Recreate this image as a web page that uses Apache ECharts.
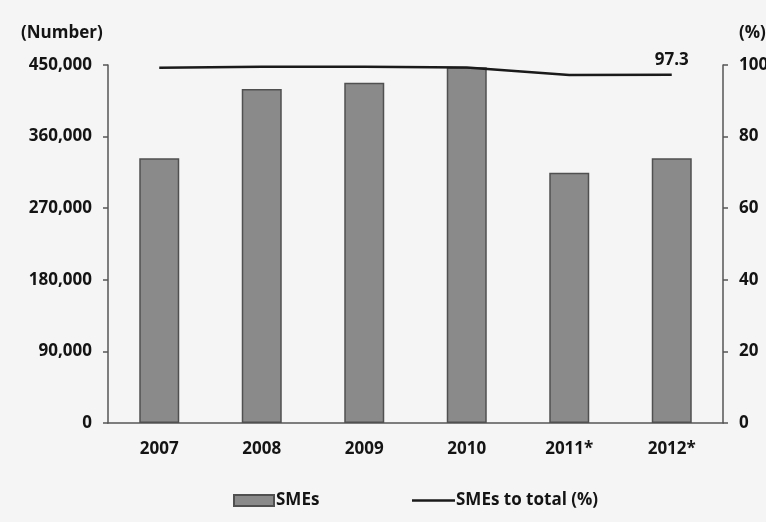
<!DOCTYPE html>
<html>
<head>
<meta charset="utf-8">
<script src="https://cdn.jsdelivr.net/npm/echarts@6/dist/echarts.min.js"></script>
<style>
  html, body { margin: 0; padding: 0; background: #f5f5f5; }
  #chart { width: 766px; height: 522px; }
</style>
</head>
<body>
<div id="chart"></div>
<script>
// Number of SMEs per year and their share of all enterprises
const years = ['2007', '2008', '2009', '2010', '2011*', '2012*'];
const smeCounts = [332700, 419800, 427800, 447100, 314600, 332700];
const smeShare = [99.2, 99.5, 99.5, 99.3, 97.2, 97.3];
const countTicks = [0, 90000, 180000, 270000, 360000, 450000];
const shareTicks = [0, 20, 40, 60, 80, 100];

const FONT = '"Open Sans", "Liberation Sans", sans-serif';
const SIZE = 17;
const txt = { color: '#141414', fontFamily: FONT, fontSize: SIZE, fontWeight: 'bold' };
const fontStr = 'bold ' + SIZE + 'px ' + FONT;

const chart = echarts.init(document.getElementById('chart'), null, { renderer: 'canvas' });

chart.setOption({
  backgroundColor: '#f5f5f5',
  animation: false,
  grid: { left: 108, right: 43, top: 65, bottom: 99, outerBoundsMode: 'none', containLabel: false },
  graphic: [
    { type: 'text', left: 21, top: 25, style: { text: '(Number)', fill: txt.color, font: fontStr } },
    { type: 'text', left: 739, top: 25, style: { text: '(%)', fill: txt.color, font: fontStr } }
  ],
  legend: [
    {
      left: 233,
      top: 492,
      padding: 0,
      itemWidth: 40,
      itemHeight: 11,
      icon: 'rect',
      textStyle: Object.assign({}, txt, { padding: [0, 0, 0, -3] }),
      data: ['SMEs']
    },
    {
      left: 412,
      top: 492,
      padding: 0,
      itemWidth: 43,
      itemHeight: 2.5,
      icon: 'rect',
      textStyle: Object.assign({}, txt, { padding: [0, 0, 0, -4] }),
      data: ['SMEs to total (%)']
    }
  ],
  xAxis: {
    type: 'category',
    data: years,
    axisLine: { lineStyle: { color: '#555', width: 1.5 } },
    axisTick: { show: false },
    axisLabel: Object.assign({ margin: 18 }, txt)
  },
  yAxis: [
    {
      type: 'value',
      min: 0,
      max: 450000,
      interval: 90000,
      axisLine: { show: true, lineStyle: { color: '#555', width: 1.5 } },
      axisTick: { show: true, length: 5, lineStyle: { color: '#555', width: 1.5 } },
      splitLine: { show: false },
      axisLabel: Object.assign({
        margin: 16,
        formatter: v => countTicks.includes(v) ? v.toLocaleString('en-US') : ''
      }, txt)
    },
    {
      type: 'value',
      min: 0,
      max: 100,
      interval: 20,
      axisLine: { show: true, lineStyle: { color: '#555', width: 1.5 } },
      axisTick: { show: true, length: 5, lineStyle: { color: '#555', width: 1.5 } },
      splitLine: { show: false },
      axisLabel: Object.assign({
        margin: 16,
        formatter: v => shareTicks.includes(v) ? String(v) : ''
      }, txt)
    }
  ],
  series: [
    {
      name: 'SMEs',
      type: 'bar',
      data: smeCounts,
      barWidth: 40,
      itemStyle: { color: '#8a8a8a', borderColor: '#505050', borderWidth: 1.5 }
    },
    {
      name: 'SMEs to total (%)',
      type: 'line',
      yAxisIndex: 1,
      data: smeShare.map((v, i) => i === smeShare.length - 1
        ? { value: v, label: { show: true } }
        : v),
      symbol: 'circle',
      symbolSize: 0,
      showSymbol: true,
      lineStyle: { color: '#1a1a1a', width: 2.5 },
      itemStyle: { color: '#1a1a1a' },
      label: Object.assign({ show: false, position: 'top', distance: 6, formatter: '{c}' }, txt),
      z: 3
    }
  ]
});
</script>
</body>
</html>
